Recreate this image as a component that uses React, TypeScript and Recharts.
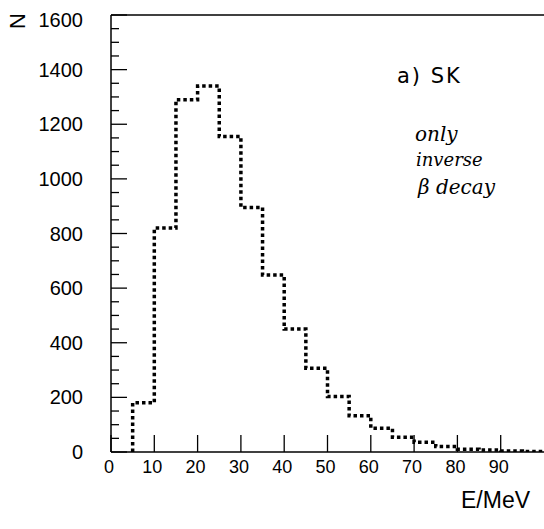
import React from 'react';
import { LineChart, Line, XAxis, YAxis, ReferenceLine } from 'recharts';

// histogram bins (MeV), lower edges, width 5
const binStarts = [5, 10, 15, 20, 25, 30, 35, 40, 45, 50, 55, 60, 65, 70, 75, 80, 85, 90, 95];
const counts = [180, 820, 1290, 1340, 1155, 895, 648, 450, 307, 203, 133, 87, 54, 36, 20, 10, 7, 4, 2];
const binWidth = 5;

const xTicks = [0, 10, 20, 30, 40, 50, 60, 70, 80, 90];
const yTicks = [
  0, 50, 100, 150, 200, 250, 300, 350, 400, 450, 500, 550, 600, 650, 700, 750, 800,
  850, 900, 950, 1000, 1050, 1100, 1150, 1200, 1250, 1300, 1350, 1400, 1450, 1500, 1550, 1600,
];

// step points: rise at first edge, then one point per bin, closing at the last edge
const steps = [
  { e: binStarts[0], n: 0 },
  ...binStarts.map((b, i) => ({ e: b, n: counts[i] })),
  { e: binStarts[binStarts.length - 1] + binWidth, n: counts[counts.length - 1] },
];

const FONT = '"Liberation Sans", Arial, sans-serif';
const Y_GAP = 28;
const X_GAP = 15;

const YTick = (props: any) => {
  const { x, y, payload } = props;
  const v = payload.value as number;
  const major = v % 200 === 0;
  const ax = x + Y_GAP;
  return (
    <g>
      <line x1={ax} x2={ax + (major ? 16 : 8)} y1={y} y2={y} stroke="#000" strokeWidth={1.3} />
      {major && (
        <text
          x={x}
          y={v === 1600 ? y + 5 : y}
          textAnchor="end"
          dominantBaseline="central"
          fontSize={20}
          fontFamily={FONT}
          fill="#000"
        >
          {v}
        </text>
      )}
    </g>
  );
};

const XTick = (props: any) => {
  const { x, y, payload } = props;
  const ay = y - X_GAP;
  return (
    <g>
      <line x1={x} x2={x} y1={ay} y2={ay - 17} stroke="#000" strokeWidth={1.3} />
      <text x={x - 2} y={y} textAnchor="middle" dominantBaseline="central" fontSize={18} fontFamily={FONT} fill="#000">
        {payload.value}
      </text>
    </g>
  );
};

const note: React.CSSProperties = {
  position: 'absolute',
  fontFamily: '"DejaVu Serif", serif',
  fontStyle: 'italic',
  fontSize: 20,
  lineHeight: 1,
  color: '#000',
  whiteSpace: 'nowrap',
};

export default function App() {
  return (
    <div style={{ position: 'absolute', left: 0, top: 0, width: 544, height: 529, background: '#fff' }}>
      <LineChart width={544} height={529} data={steps} margin={{ top: 15, right: 0, left: 0, bottom: 0 }}>
        <XAxis
          dataKey="e"
          type="number"
          domain={[0, 100]}
          ticks={xTicks}
          tickSize={0}
          tickMargin={X_GAP}
          tick={<XTick />}
          axisLine={{ stroke: '#000', strokeWidth: 1.5 }}
          height={77}
          interval={0}
          allowDataOverflow
        />
        <YAxis
          type="number"
          domain={[0, 1600]}
          ticks={yTicks}
          tickSize={0}
          tickMargin={Y_GAP}
          tick={<YTick />}
          axisLine={{ stroke: '#000', strokeWidth: 1.5 }}
          width={111}
          interval={0}
          allowDataOverflow
        />
        <ReferenceLine y={1600} stroke="#000" strokeWidth={1.5} />
        <Line
          dataKey="n"
          type="stepAfter"
          stroke="#000"
          strokeWidth={3.5}
          strokeDasharray="3.5 3"
          dot={false}
          isAnimationActive={false}
        />
      </LineChart>
      <div
        style={{
          position: 'absolute',
          left: 10,
          top: 10,
          fontFamily: FONT,
          fontSize: 22,
          transform: 'rotate(-90deg)',
          lineHeight: 1,
        }}
      >
        N
      </div>
      <div style={{ position: 'absolute', left: 397, top: 66, fontFamily: '"DejaVu Sans", sans-serif', fontSize: 21, letterSpacing: 2, lineHeight: 1 }}>
        a) SK
      </div>
      <div style={{ ...note, left: 415, top: 124 }}>only</div>
      <div style={{ ...note, left: 416, top: 151, fontSize: 18 }}>inverse</div>
      <div style={{ ...note, left: 418, top: 177 }}>β decay</div>
      <div style={{ position: 'absolute', left: 461, top: 489, fontFamily: FONT, fontSize: 23, lineHeight: 1 }}>
        E/MeV
      </div>
    </div>
  );
}
